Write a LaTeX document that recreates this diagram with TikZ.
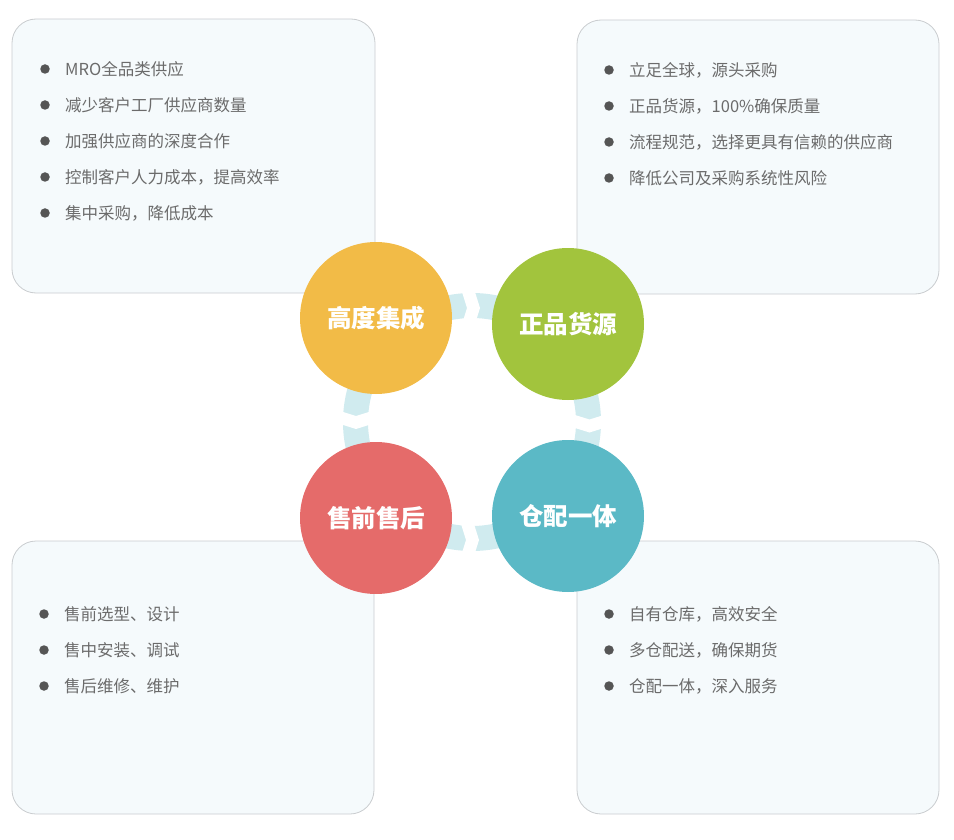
\documentclass[tikz,border=0pt]{standalone}
\usepackage{fontspec}
\setmainfont{Noto Sans CJK SC}
\definecolor{boxfill}{HTML}{F5FAFC}
\definecolor{boxline}{HTML}{C9CCCF}
\definecolor{ringcolor}{HTML}{D0EBEF}
\definecolor{itemtext}{HTML}{6B6B6B}
\definecolor{dotcolor}{HTML}{555555}
\definecolor{cyellow}{HTML}{F2BB47}
\definecolor{cgreen}{HTML}{A2C43D}
\definecolor{cred}{HTML}{E56B6A}
\definecolor{cteal}{HTML}{5BB9C6}

\begin{document}
\begin{tikzpicture}[x=1pt,y=-1pt,
		panel/.style={draw=boxline, fill=boxfill, line width=0.8pt, rounded corners=24pt},
		dot/.style={circle, fill=dotcolor, inner sep=0pt, minimum size=9.5pt},
		item/.style={anchor=west, inner sep=0pt, text=itemtext, font=\fontsize{16.5}{20}\selectfont},
		topic/.style={circle, inner sep=0pt, minimum size=152pt, text=white, font=\fontsize{24.5}{28}\selectfont\bfseries}]
		\useasboundingbox (0,0) rectangle (954,840);
		% panels
		\draw[panel] (12,19) rectangle (375,293);
		\draw[panel] (577,20) rectangle (939,294);
		\draw[panel] (12,541) rectangle (374,814);
		\draw[panel] (577,541) rectangle (939,814);
		% ring with chevron gaps
		\coordinate (ringc) at (472,422);
		\draw[ringcolor, line width=25pt] (ringc) circle (116.5);
		\foreach \gx/\gy/\rot in {468.5/308/0, 467.5/540/0, 356/417.5/-90, 589.5/421/-90}
		{
			\fill[white, shift={(\gx,\gy)}, rotate=\rot] (-6.5,-16) -- (6.5,-16) -- (11.5,0) -- (6.5,16) -- (-6.5,16) -- (-1.5,0) -- cycle;
		}
		% topics
		\node[topic, fill=cyellow] (jicheng) at (376,318) {高度集成};
		\node[topic, fill=cgreen] (huoyuan) at (568,324) {正品货源};
		\node[topic, fill=cred] (shouhou) at (376,518) {售前售后};
		\node[topic, fill=cteal] (cangpei) at (568,516) {仓配一体};
		% items
		\foreach \i/\y/\txt in {1/69/MRO全品类供应, 2/105/减少客户工厂供应商数量, 3/141/加强供应商的深度合作, 4/177/控制客户人力成本，提高效率, 5/213/集中采购，降低成本}
		{
			\node[dot] (jc-b\i) at (45,\y) {};
			\node[item] (jc-t\i) at (65,\y) {\txt};
		}
		\foreach \i/\y/\txt in {1/70/立足全球，源头采购, 2/106/正品货源，100\%确保质量, 3/142/流程规范，选择更具有信赖的供应商, 4/178/降低公司及采购系统性风险}
		{
			\node[dot] (hy-b\i) at (609,\y) {};
			\node[item] (hy-t\i) at (629,\y) {\txt};
		}
		\foreach \i/\y/\txt in {1/614/售前选型、设计, 2/650/售中安装、调试, 3/686/售后维修、维护}
		{
			\node[dot] (sh-b\i) at (44,\y) {};
			\node[item] (sh-t\i) at (64,\y) {\txt};
		}
		\foreach \i/\y/\txt in {1/614/自有仓库，高效安全, 2/650/多仓配送，确保期货, 3/686/仓配一体，深入服务}
		{
			\node[dot] (cp-b\i) at (609,\y) {};
			\node[item] (cp-t\i) at (629,\y) {\txt};
		}
	\end{tikzpicture}
\end{document}
